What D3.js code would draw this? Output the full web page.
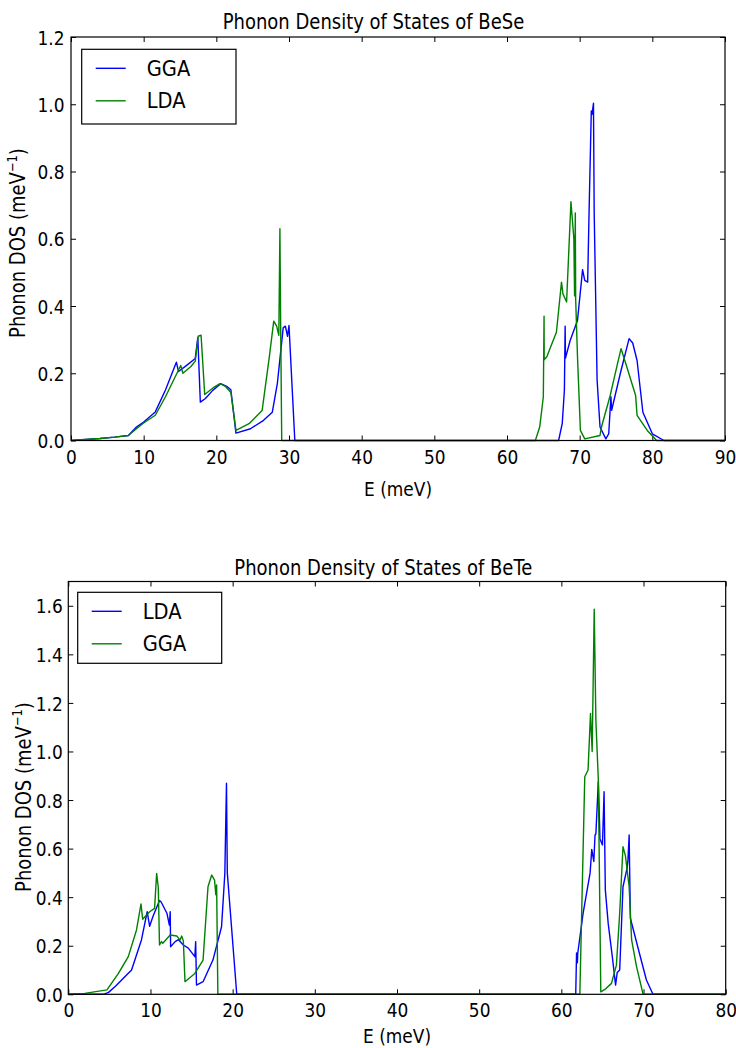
<!DOCTYPE html>
<html>
<head>
<meta charset="utf-8">
<script src="https://cdn.jsdelivr.net/npm/d3@7"></script>
<style>
  body { margin: 0; background: #fff; }
  svg { display: block; }
  text { font-family: "DejaVu Sans", sans-serif; fill: #000; }
</style>
</head>
<body>
<script>
// ---- BeSe (top panel) ----
const beseGgaE = [0, 2, 4, 6, 7.9, 9, 10, 11.6, 13, 14.5, 14.8, 16, 17.1, 17.45, 17.8, 18.5, 19.5, 20.6, 21.5, 22.0, 22.7,
  24.7, 26.5, 27.7, 28.4, 29.2, 29.5, 29.8, 30.0, 30.4, 30.8, 40, 50, 60, 67.1, 67.6, 67.9, 68.0, 68.05, 68.7, 69.7,
  70.4, 70.7, 71.1, 71.3, 71.6, 71.7, 71.9, 72.0, 72.4, 72.8, 73.6, 74.0, 74.3, 74.4, 75.6, 76.8, 77.3, 77.9, 78.7,
  80.0, 81.6, 90]
const beseGgaD = [0, 0.003, 0.006, 0.01, 0.015, 0.04, 0.055, 0.085, 0.15, 0.233, 0.205, 0.225, 0.244, 0.306, 0.114, 0.125, 0.149, 0.169, 0.16, 0.151, 0.022,
  0.035, 0.06, 0.084, 0.17, 0.335, 0.34, 0.31, 0.342, 0.17, 0, 0, 0, 0, 0, 0.05, 0.15, 0.34, 0.245, 0.298, 0.357,
  0.508, 0.476, 0.471, 0.685, 0.98, 0.97, 1.003, 0.676, 0.18, 0.04, 0.005, 0.02, 0.13, 0.09, 0.2, 0.303, 0.29, 0.238, 0.084,
  0.02, 0, 0]

const beseLdaE = [0, 2, 4, 6, 7.9, 9, 10, 11.6, 13, 15.1, 15.4, 16.5, 17.1, 17.5, 17.9, 18.4, 19.7, 20.5, 21.3, 22.0, 22.7,
  24.5, 26.3, 27.3, 27.9, 28.3, 28.6, 28.75, 28.85, 29.0, 40, 50, 63.9, 64.5, 65.0, 65.1, 65.12, 65.5, 66.0, 66.8, 67.5,
  67.7, 68.2, 68.8, 69.2, 69.3, 69.4, 69.45, 69.7, 70.1, 70.7, 72.8, 73.0, 74.2, 75.2, 75.7, 76.5, 77.7, 77.9, 79.3,
  80.6, 90]
const beseLdaD = [0, 0.003, 0.006, 0.01, 0.015, 0.035, 0.052, 0.075, 0.13, 0.223, 0.2, 0.22, 0.236, 0.31, 0.313, 0.137, 0.159, 0.169, 0.16, 0.143, 0.03,
  0.05, 0.089, 0.25, 0.355, 0.34, 0.313, 0.63, 0.35, 0, 0, 0, 0, 0.04, 0.13, 0.37, 0.24, 0.25, 0.278, 0.322, 0.471,
  0.436, 0.412, 0.71, 0.6, 0.43, 0.677, 0.42, 0.25, 0.03, 0.005, 0.015, 0.04, 0.134, 0.228, 0.273, 0.218, 0.134, 0.075, 0.03,
  0, 0]

// ---- BeTe (bottom panel) ----
const beteLdaE = [0, 4.3, 4.9, 5.8, 6.7, 7.7, 8.9, 9.6, 9.9, 10.3, 11.1, 11.3, 12.0, 12.3, 12.4, 12.45, 13.0, 13.4, 14.0, 14.6,
  15.4, 15.5, 15.6, 16.4, 17.6, 18.65, 19.05, 19.25, 19.35, 20.5, 30, 45, 61.75, 61.85, 61.95, 62.0, 62.65, 63.5, 63.7,
  63.95, 64.1, 64.2, 64.5, 64.7, 65.0, 65.2, 65.35, 65.7, 66.2, 66.6, 66.8, 67.1, 67.5, 68.0, 68.1, 68.25, 68.4, 69.5,
  70.35, 71.15, 80]
const beteLdaD = [0, 0, 0.008, 0.035, 0.066, 0.1, 0.224, 0.34, 0.28, 0.32, 0.386, 0.38, 0.334, 0.285, 0.34, 0.196, 0.217, 0.225, 0.203, 0.19,
  0.155, 0.217, 0.038, 0.052, 0.141, 0.278, 0.498, 0.869, 0.5, 0, 0, 0, 0, 0.17, 0.13, 0.17, 0.334, 0.5, 0.597,
  0.547, 0.656, 0.66, 0.876, 0.64, 0.615, 0.834, 0.43, 0.292, 0.155, 0.038, 0.09, 0.1, 0.443, 0.519, 0.55, 0.656, 0.313, 0.169,
  0.059, 0, 0]

const beteGgaE = [0, 2, 4.7, 6.1, 7.3, 8.3, 8.85, 9.05, 9.9, 10.5, 10.75, 10.95, 11.1, 11.35, 11.5, 12.4, 13.2, 13.6, 13.8, 14.0,
  14.2, 15.4, 16.4, 17.0, 17.45, 17.8, 17.95, 18.05, 18.2, 30, 45, 62.25, 62.55, 62.85, 63.25, 63.55, 63.75, 64.0, 64.2,
  64.5, 64.8, 65.3, 66.1, 66.7, 67.1, 67.5, 67.8, 68.25, 68.55, 69.15, 69.95, 80]
const beteGgaD = [0, 0.004, 0.018, 0.086, 0.155, 0.265, 0.372, 0.309, 0.34, 0.354, 0.498, 0.44, 0.203, 0.217, 0.21, 0.244, 0.24, 0.224, 0.24, 0.22,
  0.052, 0.086, 0.141, 0.443, 0.491, 0.47, 0.41, 0.45, 0, 0, 0, 0, 0.45, 0.896, 0.924, 1.157, 1.0, 1.586, 1.13,
  0.883, 0.01, 0.02, 0.045, 0.12, 0.334, 0.608, 0.57, 0.443, 0.224, 0.114, 0, 0]

const BLUE = '#0000ff'
const GREEN = '#008000'
const STRETCH = 1.18 // the reference text is a bit taller than it is wide

const svg = d3.select('body')
  .append('svg')
  .attr('width', 736)
  .attr('height', 1048)

function zip(es, ds) {
  return es.map((e, i) => [e, ds[i]])
}

function panel(cfg) {
  const x = d3.scaleLinear().domain(cfg.xDomain).range([cfg.left, cfg.right])
  const y = d3.scaleLinear().domain(cfg.yDomain).range([cfg.bottom, cfg.top])
  const g = svg.append('g')

  // ticks point inward on all four sides (classic matplotlib look)
  const axB = d3.axisBottom(x).tickValues(cfg.xTicks).tickSizeInner(-5).tickSizeOuter(0)
  const axT = d3.axisTop(x).tickValues(cfg.xTicks).tickSizeInner(-5).tickSizeOuter(0).tickFormat('')
  const axL = d3.axisLeft(y).tickValues(cfg.yTicks).tickSizeInner(-5).tickSizeOuter(0)
    .tickFormat(d3.format('.1f'))
  const axR = d3.axisRight(y).tickValues(cfg.yTicks).tickSizeInner(-5).tickSizeOuter(0).tickFormat('')

  const gB = g.append('g').attr('transform', `translate(0,${cfg.bottom})`).call(axB)
  g.append('g').attr('transform', `translate(0,${cfg.top})`).call(axT)
  const gL = g.append('g').attr('transform', `translate(${cfg.left},0)`).call(axL)
  g.append('g').attr('transform', `translate(${cfg.right},0)`).call(axR)
  g.selectAll('.domain').remove()
  g.selectAll('.tick line').attr('stroke', '#000')
  g.selectAll('.tick text').attr('font-family', '"DejaVu Sans", sans-serif').attr('font-size', 17)
    .attr('x', 0).attr('y', 0).attr('dy', null)
  gB.selectAll('.tick text').attr('transform', `translate(0,23) scale(1,${STRETCH})`)
  gL.selectAll('.tick text').attr('transform', `translate(${cfg.ytickPad},7.2) scale(1,${STRETCH})`)

  const line = d3.line().x(d => x(d[0])).y(d => y(d[1]))
  cfg.series.forEach(s => {
    g.append('path')
      .datum(s.pts)
      .attr('fill', 'none')
      .attr('stroke', s.color)
      .attr('stroke-width', 1.4)
      .attr('stroke-linejoin', 'round')
      .attr('d', line)
  })

  g.append('rect')
    .attr('x', cfg.left).attr('y', cfg.top)
    .attr('width', cfg.right - cfg.left).attr('height', cfg.bottom - cfg.top)
    .attr('fill', 'none').attr('stroke', '#000').attr('stroke-width', 1.2)

  g.append('text')
    .attr('transform', `translate(${cfg.titleX},${cfg.titleY}) scale(1,${STRETCH})`)
    .attr('font-size', 18)
    .text(cfg.title)

  g.append('text')
    .attr('transform', `translate(${(cfg.left + cfg.right) / 2},${cfg.xlabelY}) scale(1,${STRETCH})`)
    .attr('text-anchor', 'middle')
    .attr('font-size', 17)
    .text('E (meV)')

  const yl = g.append('text')
    .attr('transform', `translate(${cfg.ylabelX},${cfg.ylabelY}) rotate(-90) scale(1,${STRETCH})`)
    .attr('text-anchor', 'middle')
    .attr('font-size', 18)
  yl.append('tspan').text('Phonon DOS (meV')
  yl.append('tspan').attr('font-size', 11.5).attr('dy', -7).text('\u22121')
  yl.append('tspan').attr('dy', 7).text(')')

  // legend
  const lg = g.append('g')
  lg.append('rect')
    .attr('x', cfg.legend.x).attr('y', cfg.legend.y)
    .attr('width', cfg.legend.w).attr('height', cfg.legend.h)
    .attr('fill', '#fff').attr('stroke', '#000').attr('stroke-width', 1.2)
  cfg.series.forEach((s, i) => {
    const ly = cfg.legend.y + 19 + i * 32.5
    lg.append('line')
      .attr('x1', cfg.legend.x + 14).attr('x2', cfg.legend.x + 44)
      .attr('y1', ly).attr('y2', ly)
      .attr('stroke', s.color).attr('stroke-width', 1.4)
    lg.append('text')
      .attr('transform', `translate(${cfg.legend.x + 65},${ly + 7.5}) scale(1,1.05)`)
      .attr('font-size', 19.5)
      .text(s.name)
  })
}

panel({
  left: 71, right: 725, top: 37, bottom: 440.5,
  xDomain: [0, 90], yDomain: [0, 1.2],
  xTicks: d3.range(0, 91, 10), yTicks: [0, 0.2, 0.4, 0.6, 0.8, 1.0, 1.2],
  title: 'Phonon Density of States of BeSe', titleX: 222.7, titleY: 29,
  xlabelY: 496, ylabelX: 25, ylabelY: 243, ytickPad: -6.5,
  legend: { x: 81.7, y: 49.3, w: 154.3, h: 74.7 },
  series: [
    { name: 'GGA', color: BLUE, pts: zip(beseGgaE, beseGgaD) },
    { name: 'LDA', color: GREEN, pts: zip(beseLdaE, beseLdaD) }
  ]
})

panel({
  left: 68.3, right: 725.7, top: 581.5, bottom: 994.3,
  xDomain: [0, 80], yDomain: [0, 1.7],
  xTicks: d3.range(0, 81, 10), yTicks: [0, 0.2, 0.4, 0.6, 0.8, 1.0, 1.2, 1.4, 1.6],
  title: 'Phonon Density of States of BeTe', titleX: 234.3, titleY: 575,
  xlabelY: 1043, ylabelX: 30.5, ylabelY: 797, ytickPad: -5.5,
  legend: { x: 77.7, y: 592.3, w: 144, h: 71 },
  series: [
    { name: 'LDA', color: BLUE, pts: zip(beteLdaE, beteLdaD) },
    { name: 'GGA', color: GREEN, pts: zip(beteGgaE, beteGgaD) }
  ]
})
</script>
</body>
</html>
